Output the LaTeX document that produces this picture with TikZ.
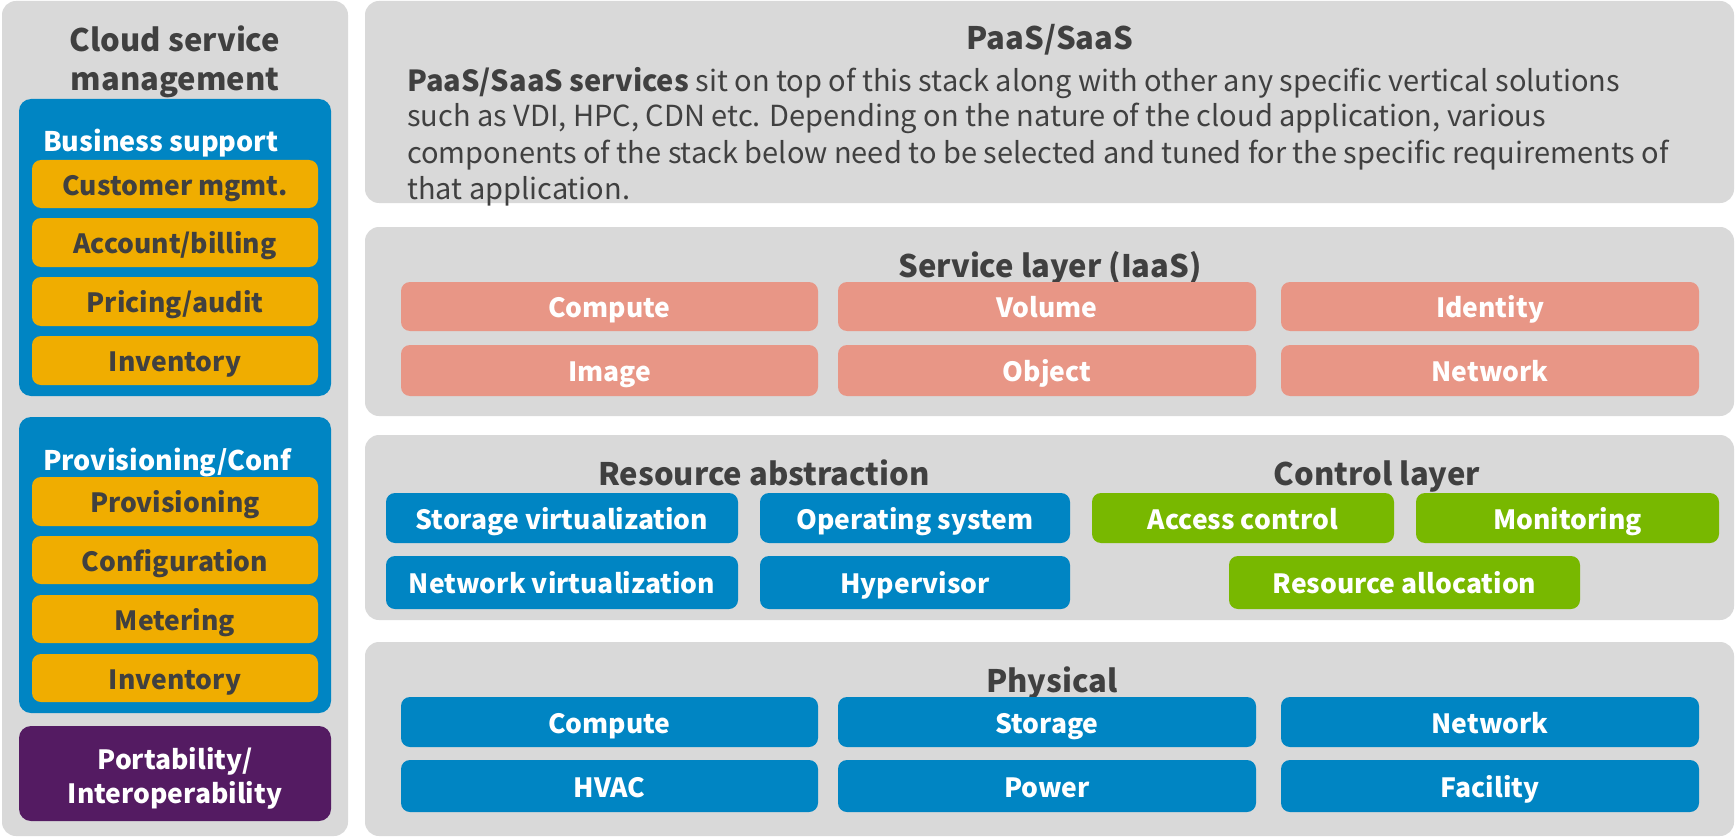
\documentclass[tikz,border=0pt]{standalone}
\usepackage{fontspec}
\setmainfont{Noto Sans CJK JP}
\definecolor{pgray}{HTML}{D9D9D9}
\definecolor{cblue}{HTML}{0085C3}
\definecolor{corange}{HTML}{F0AD00}
\definecolor{cpink}{HTML}{E89686}
\definecolor{cgreen}{HTML}{78B800}
\definecolor{cpurple}{HTML}{541B62}
\definecolor{tdark}{HTML}{404040}
\newcommand\bx[7]{%
  \pgfmathsetmacro\bw{#5-#3}\pgfmathsetmacro\bh{#6-#4}%
  \node[#2, minimum width=\bw pt, minimum height=\bh pt, anchor=north west] (#1) at (#3,#4) {#7};}
\tikzset{
  base/.style={inner sep=0pt, outer sep=0pt, draw=none, text height=23pt, text depth=1pt},
  panel/.style={base, fill=pgray, rounded corners=14pt},
  grp/.style={base, fill=cblue, rounded corners=12pt},
  lbl/.style={font=\fontsize{26.5}{30}\selectfont\bfseries},
  obox/.style={base, lbl, fill=corange, rounded corners=9pt, text=tdark},
  pbox/.style={base, lbl, fill=cpink, rounded corners=9pt, text=white},
  bbox/.style={base, lbl, fill=cblue, rounded corners=9pt, text=white},
  gbox/.style={base, lbl, fill=cgreen, rounded corners=9pt, text=white},
  vbox/.style={base, fill=cpurple, rounded corners=12pt},
  ttl/.style={inner sep=0pt, text=tdark, font=\fontsize{31}{34}\selectfont\bfseries, anchor=base},
  gttl/.style={inner sep=0pt, text=white, font=\fontsize{27}{30}\selectfont\bfseries, anchor=base west},
  body/.style={inner sep=0pt, text=tdark, font=\fontsize{29}{35}\selectfont, anchor=base west},
  vtxt/.style={inner sep=0pt, text=white, lbl, anchor=base},
}
\begin{document}
\begin{tikzpicture}[x=1pt,y=-1pt]
\useasboundingbox (0,0) rectangle (1736,837);
\fill[white] (0,0) rectangle (1736,837);
% left column
\bx{csm}{panel}{2}{1}{348}{836}{}
\node[ttl] (csmA) at (175,52) {Cloud service};
\node[ttl] (csmB) at (175,91) {management};
\bx{bs}{grp}{19}{99}{331}{396}{}
\node[gttl] (bsT) at (43,152) {Business support};
\bx{o1}{obox}{32}{160}{318}{208}{Customer mgmt.}
\bx{o2}{obox}{32}{218}{318}{267}{Account/billing}
\bx{o3}{obox}{32}{277}{318}{326}{Pricing/audit}
\bx{o4}{obox}{32}{336}{318}{385}{Inventory}
\bx{pc}{grp}{19}{417}{331}{713}{}
\node[gttl] (pcT) at (43,470) {Provisioning/Conf};
\bx{o5}{obox}{32}{477}{318}{526}{Provisioning}
\bx{o6}{obox}{32}{536}{318}{584}{Configuration}
\bx{o7}{obox}{32}{595}{318}{643}{Metering}
\bx{o8}{obox}{32}{654}{318}{702}{Inventory}
\bx{pi}{vbox}{19}{726}{331}{821}{}
\node[vtxt] (piA) at (175,769) {Portability/};
\node[vtxt] (piB) at (175,803) {Interoperability};
% PaaS/SaaS
\bx{paas}{panel}{365}{1}{1734}{203}{}
\node[ttl] (paasT) at (1050,50) {PaaS/SaaS};
\node[body] (l1) at (407,92) {\textbf{PaaS/SaaS services} sit on top of this stack along with other any specific vertical solutions};
\node[body] (l2) at (407,127) {such as VDI, HPC, CDN etc. Depending on the nature of the cloud application, various};
\node[body] (l3) at (407,164) {components of the stack below need to be selected and tuned for the specific requirements of};
\node[body] (l4) at (407,200) {that application.};
% Service layer
\bx{svc}{panel}{365}{227}{1734}{416}{}
\node[ttl] (svcT) at (1050,277) {Service layer (IaaS)};
\bx{s1}{pbox}{401}{282}{818}{331}{Compute}
\bx{s2}{pbox}{838}{282}{1256}{331}{Volume}
\bx{s3}{pbox}{1281}{282}{1699}{331}{Identity}
\bx{s4}{pbox}{401}{345}{818}{396}{Image}
\bx{s5}{pbox}{838}{345}{1256}{396}{Object}
\bx{s6}{pbox}{1281}{345}{1699}{396}{Network}
% Resource abstraction / control
\bx{res}{panel}{365}{435}{1734}{620}{}
\node[ttl] (resT) at (764,485) {Resource abstraction};
\node[ttl] (ctlT) at (1377,485) {Control layer};
\bx{r1}{bbox}{386}{493}{738}{543}{Storage virtualization}
\bx{r2}{bbox}{760}{493}{1070}{543}{Operating system}
\bx{r3}{bbox}{386}{556}{738}{609}{Network virtualization}
\bx{r4}{bbox}{760}{556}{1070}{609}{Hypervisor}
\bx{c1}{gbox}{1092}{493}{1394}{543}{Access control}
\bx{c2}{gbox}{1416}{493}{1719}{543}{Monitoring}
\bx{c3}{gbox}{1229}{556}{1580}{609}{Resource allocation}
% Physical
\bx{phy}{panel}{365}{642}{1734}{836}{}
\node[ttl] (phyT) at (1052,692) {Physical};
\bx{p1}{bbox}{401}{697}{818}{747}{Compute}
\bx{p2}{bbox}{838}{697}{1256}{747}{Storage}
\bx{p3}{bbox}{1281}{697}{1699}{747}{Network}
\bx{p4}{bbox}{401}{760}{818}{812}{HVAC}
\bx{p5}{bbox}{838}{760}{1256}{812}{Power}
\bx{p6}{bbox}{1281}{760}{1699}{812}{Facility}
\end{tikzpicture}
\end{document}
